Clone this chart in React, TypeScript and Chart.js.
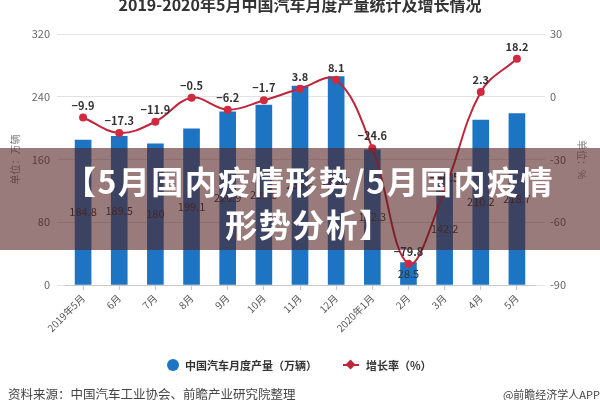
import React, { useEffect, useRef } from "react";
import { Chart, registerables } from "chart.js";

Chart.register(...registerables);

// Monthly vehicle output (10k units) and year-on-year growth (%)
const months = ["2019年5月", "6月", "7月", "8月", "9月", "10月", "11月", "12月", "2020年1月", "2月", "3月", "4月", "5月"];
const output = [184.8, 189.5, 180, 199.1, 220.9, 229.5, 253.6, 265.7, 172.3, 28.5, 142.2, 210.2, 218.7];
const growth = [-9.9, -17.3, -11.9, -0.5, -6.2, -1.7, 3.8, 8.1, -24.6, -79.8, -44.5, 2.3, 18.2];

const outputTicks = { min: 0, max: 320, step: 80 };
const growthTicks = { min: -90, max: 30, step: 30 };

const FONT = '"Noto Sans CJK SC", "Noto Sans", sans-serif';
const BAR_BLUE = "#1c74c2";
const LINE_RED = "#be263b";

const fmtGrowth = (v: number) => (v < 0 ? "\u2212" + Math.abs(v) : String(v));

const valueLabels = {
  id: "valueLabels",
  afterDatasetsDraw(chart: any) {
    const ctx = chart.ctx;
    ctx.save();
    ctx.textAlign = "center";
    ctx.textBaseline = "middle";

    const bars = chart.getDatasetMeta(0).data;
    ctx.font = `11px ${FONT}`;
    ctx.fillStyle = "#333";
    bars.forEach((el: any, i: number) => {
      const p = el.getProps(["x", "y", "base"], true);
      ctx.fillText(String(output[i]), p.x, (p.y + p.base) / 2);
    });

    const pts = chart.getDatasetMeta(1).data;
    ctx.font = `bold 11px ${FONT}`;
    ctx.fillStyle = "#333";
    pts.forEach((el: any, i: number) => {
      ctx.fillText(fmtGrowth(growth[i]), el.x, el.y - 12);
    });
    ctx.restore();
  },
};

export default function App() {
  const canvasRef = useRef<HTMLCanvasElement | null>(null);

  useEffect(() => {
    const canvas = canvasRef.current;
    if (!canvas) return;
    Chart.defaults.font.family = FONT;

    const chart = new Chart(canvas, {
      type: "bar",
      data: {
        labels: months,
        datasets: [
          {
            type: "bar",
            label: "中国汽车月度产量（万辆）",
            data: output,
            backgroundColor: BAR_BLUE,
            barThickness: 16,
            yAxisID: "y",
            order: 2,
          },
          {
            type: "line",
            label: "增长率（%）",
            data: growth,
            borderColor: LINE_RED,
            borderWidth: 2,
            backgroundColor: LINE_RED,
            pointBackgroundColor: "#d02a40",
            pointBorderColor: "#d02a40",
            pointRadius: 4,
            pointBorderWidth: 0,
            tension: 0.38,
            yAxisID: "y1",
            order: 1,
          } as any,
        ],
      },
      options: {
        responsive: false,
        animation: false,
        devicePixelRatio: 1,
        layout: { padding: { top: 34, bottom: 55, left: 0, right: 0 } },
        plugins: {
          legend: { display: false },
          tooltip: { enabled: false },
          title: { display: false },
        },
        scales: {
          x: {
            offset: true,
            afterFit: (s: any) => {
              s.height = 60;
            },
            grid: {
              display: true,
              drawOnChartArea: false,
              drawTicks: true,
              tickLength: 5,
              offset: false,
              color: "#c8c8c8",
            },
            border: { display: true, color: "#c8c8c8" },
            ticks: {
              autoSkip: false,
              maxRotation: 45,
              minRotation: 45,
              padding: 2,
              color: "#555",
              font: { size: 10 },
            },
          },
          y: {
            position: "left",
            min: outputTicks.min,
            max: outputTicks.max,
            afterFit: (s: any) => {
              s.width = 65;
            },
            ticks: { stepSize: outputTicks.step, padding: 7, color: "#666", font: { size: 11 } },
            grid: { color: "#e2e2e2", drawTicks: true, tickLength: 8 },
            border: { display: false },
            title: {
              display: true,
              text: "单位：万辆",
              color: "#888",
              font: { size: 10 },
              padding: { top: 9, bottom: 0 },
            },
          },
          y1: {
            position: "right",
            min: growthTicks.min,
            max: growthTicks.max,
            afterFit: (s: any) => {
              s.width = 65;
            },
            ticks: { stepSize: growthTicks.step, padding: 5, color: "#666", font: { size: 11 } },
            grid: { drawOnChartArea: false, drawTicks: true, tickLength: 10, color: "#e2e2e2" },
            border: { display: false },
            title: {
              display: true,
              text: "单位：%",
              color: "#888",
              font: { size: 10 },
              padding: { top: 12, bottom: 0 },
            },
          },
        },
      } as any,
      plugins: [valueLabels],
    });

    return () => chart.destroy();
  }, []);

  return (
    <div
      style={{
        position: "fixed",
        left: 0,
        top: 0,
        width: 600,
        height: 400,
        overflow: "hidden",
        background: "#fff",
        fontFamily: FONT,
      }}
    >
      <canvas ref={canvasRef} width={600} height={400} style={{ position: "absolute", left: 0, top: 0 }} />

      <div
        style={{
          position: "absolute",
          left: 0,
          top: -6,
          width: 600,
          textAlign: "center",
          fontSize: 16,
          lineHeight: "20px",
          fontWeight: "bold",
          color: "#333",
        }}
      >
        2019-2020年5月中国汽车月度产量统计及增长情况
      </div>

      {/* legend */}
      <div
        style={{
          position: "absolute",
          left: 167,
          top: 357,
          height: 16,
          display: "flex",
          alignItems: "center",
          fontSize: 11,
          fontWeight: "bold",
          color: "#333",
          whiteSpace: "nowrap",
        }}
      >
        <span
          style={{ display: "inline-block", width: 12, height: 12, borderRadius: 6, background: BAR_BLUE, marginRight: 6 }}
        />
        <span>中国汽车月度产量（万辆）</span>
        <span style={{ position: "relative", display: "inline-block", width: 16, height: 12, marginLeft: 26, marginRight: 7 }}>
          <span style={{ position: "absolute", left: 0, top: 5, width: 16, height: 2, background: LINE_RED }} />
          <span
            style={{
              position: "absolute",
              left: 4,
              top: 2,
              width: 7,
              height: 7,
              background: LINE_RED,
              transform: "rotate(45deg)",
            }}
          />
        </span>
        <span>增长率（%）</span>
      </div>

      {/* source line */}
      <div
        style={{
          position: "absolute",
          left: 8,
          top: 385,
          fontSize: 12.5,
          lineHeight: "18px",
          color: "#444",
          whiteSpace: "nowrap",
        }}
      >
        资料来源：中国汽车工业协会、前瞻产业研究院整理
      </div>
      <div
        style={{
          position: "absolute",
          right: 0,
          top: 385,
          fontSize: 11,
          lineHeight: "18px",
          color: "#444",
          whiteSpace: "nowrap",
        }}
      >
        @前瞻经济学人APP
      </div>

      {/* headline banner */}
      <div
        style={{
          position: "absolute",
          left: 0,
          top: 148,
          width: 600,
          height: 102,
          background: "rgba(84, 30, 30, 0.59)",
        }}
      >
        <div
          style={{
            position: "absolute",
            left: 18,
            right: 0,
            top: 11,
            textAlign: "center",
            color: "#fff",
            fontWeight: "bold",
            fontSize: 32,
            lineHeight: "43px",
            letterSpacing: 1.5,
            whiteSpace: "nowrap",
          }}
        >
          <div>【5月国内疫情形势/5月国内疫情</div>
          <div>形势分析】</div>
        </div>
      </div>
    </div>
  );
}
